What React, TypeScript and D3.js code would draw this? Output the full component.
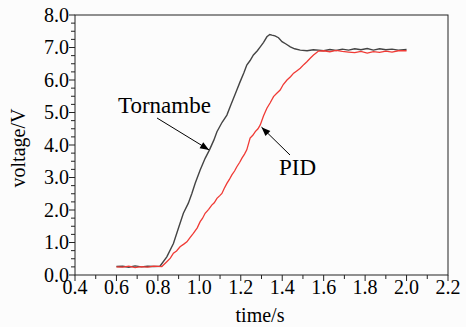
import React from "react";
import * as d3 from "d3";

// Tornambe response (time s, voltage V)
const tornambeT = [
  0.6, 0.63, 0.66, 0.69, 0.72, 0.75, 0.78, 0.81, 0.843, 0.875, 0.899, 0.923, 0.947, 0.964, 0.98, 1.004,
  1.028, 1.049, 1.07, 1.085, 1.11, 1.133, 1.15, 1.165, 1.18, 1.197, 1.215, 1.229, 1.245, 1.261, 1.28,
  1.294, 1.31, 1.326, 1.34, 1.35, 1.365, 1.382, 1.399, 1.42, 1.439, 1.46, 1.487, 1.52, 1.55, 1.575,
  1.6, 1.63, 1.66, 1.69, 1.72, 1.75, 1.78, 1.81, 1.84, 1.87, 1.9, 1.93, 1.96, 2.0,
];
const tornambeV = [
  0.26, 0.27, 0.24, 0.28, 0.25, 0.27, 0.26, 0.27, 0.56, 0.97, 1.44, 1.9, 2.21, 2.51, 2.82, 3.23,
  3.59, 3.85, 4.15, 4.41, 4.7, 4.92, 5.2, 5.44, 5.68, 5.95, 6.22, 6.46, 6.6, 6.77, 6.9,
  7.02, 7.16, 7.33, 7.4, 7.38, 7.36, 7.3, 7.18, 7.1, 7.02, 6.96, 6.92, 6.9, 6.93, 6.92,
  6.9, 6.94, 6.91, 6.95, 6.92, 6.96, 6.93, 6.97, 6.92, 6.96, 6.93, 6.95, 6.92, 6.94,
];

// PID response
const pidT = [
  0.6, 0.63, 0.66, 0.69, 0.72, 0.75, 0.78, 0.819, 0.843, 0.86, 0.875, 0.89, 0.907, 0.925, 0.94, 0.955,
  0.971, 0.99, 1.004, 1.015, 1.028, 1.045, 1.06, 1.072, 1.085, 1.1, 1.109, 1.12, 1.133, 1.145, 1.157,
  1.17, 1.181, 1.195, 1.205, 1.218, 1.229, 1.245, 1.258, 1.27, 1.283, 1.294, 1.31, 1.326, 1.342,
  1.358, 1.375, 1.39, 1.405, 1.423, 1.44, 1.455, 1.47, 1.487, 1.505, 1.519, 1.535, 1.551, 1.565,
  1.575, 1.6, 1.63, 1.66, 1.69, 1.72, 1.75, 1.78, 1.81, 1.84, 1.87, 1.9, 1.93, 1.96, 2.0,
];
const pidV = [
  0.25, 0.24, 0.27, 0.23, 0.26, 0.24, 0.27, 0.26, 0.41, 0.52, 0.67, 0.74, 0.87, 0.95, 1.02, 1.15,
  1.28, 1.45, 1.64, 1.74, 1.9, 2.02, 2.15, 2.22, 2.36, 2.45, 2.51, 2.66, 2.82, 2.94, 3.08,
  3.2, 3.33, 3.47, 3.59, 3.72, 3.85, 4.21, 4.3, 4.41, 4.5, 4.62, 4.9, 5.13, 5.3,
  5.49, 5.6, 5.69, 5.86, 6.0, 6.1, 6.21, 6.28, 6.36, 6.48, 6.56, 6.67, 6.77, 6.84,
  6.89, 6.9, 6.87, 6.91, 6.88, 6.86, 6.84, 6.88, 6.83, 6.87, 6.85, 6.89, 6.86, 6.9, 6.9,
];

const xTicks = [0.4, 0.6, 0.8, 1.0, 1.2, 1.4, 1.6, 1.8, 2.0, 2.2];
const yTicks = [0, 1, 2, 3, 4, 5, 6, 7, 8];

const W = 466;
const H = 327;
const css = `.lbl { font-family: "Liberation Serif", "Times New Roman", serif; }`;

export default function App() {
  const x = d3.scaleLinear().domain([0.4, 2.2]).range([75, 448]);
  const y = d3.scaleLinear().domain([0, 8]).range([275, 15]);

  const line = d3
    .line<[number, number]>()
    .x((d) => x(d[0]))
    .y((d) => y(d[1]));
  const tor = tornambeT.map((t, i) => [t, tornambeV[i]] as [number, number]);
  const pid = pidT.map((t, i) => [t, pidV[i]] as [number, number]);

  const yMinor = d3.range(0, 8.001, 0.25);
  const xMinor = d3.range(0.4, 2.2001, 0.1);

  // arrow head from the annotation line direction
  const arrowHead = (x1: number, y1: number, x2: number, y2: number) => {
    const a = Math.atan2(y2 - y1, x2 - x1);
    const len = 9;
    const hw = 3.5;
    const bx = x2 - len * Math.cos(a);
    const by = y2 - len * Math.sin(a);
    const px = -Math.sin(a) * hw;
    const py = Math.cos(a) * hw;
    return `M${x2},${y2}L${bx + px},${by + py}L${bx - px},${by - py}Z`;
  };
  const torArrow = [157, 118, x(1.047), y(3.85)];
  const pidArrow = [290, 155, x(1.3), y(4.55)];

  return (
    <svg width={W} height={H} style={{ position: "absolute", left: 0, top: 0 }}>
      <style>{css}</style>
      <rect width={W} height={H} fill="#fcfcfc" />

      <rect
        x={x(0.4)}
        y={y(8)}
        width={x(2.2) - x(0.4)}
        height={y(0) - y(8)}
        fill="none"
        stroke="#222"
      />

      {yMinor.map((d) => (
        <line
          key={"yt" + d}
          x1={x(0.4)}
          x2={x(0.4) - (Math.abs(d - Math.round(d)) < 1e-6 ? 6 : 4)}
          y1={y(d)}
          y2={y(d)}
          stroke="#222"
        />
      ))}
      {yTicks.map((d) => (
        <text key={"yl" + d} className="lbl" x={69} y={y(d) + 6.5} textAnchor="end" fontSize={20}>
          {d.toFixed(1)}
        </text>
      ))}

      {xMinor.map((d) => (
        <line
          key={"xt" + d}
          x1={x(d)}
          x2={x(d)}
          y1={y(0)}
          y2={y(0) + (Math.round(d * 10) % 2 === 0 ? 6 : 4)}
          stroke="#222"
        />
      ))}
      {xTicks.map((d) => (
        <text key={"xl" + d} className="lbl" x={x(d)} y={294} textAnchor="middle" fontSize={20}>
          {d.toFixed(1)}
        </text>
      ))}

      <text className="lbl" x={260} y={322} textAnchor="middle" fontSize={20}>
        time/s
      </text>
      <text className="lbl" transform="translate(25,148) rotate(-90)" textAnchor="middle" fontSize={20}>
        voltage/V
      </text>

      <path d={line(tor) ?? ""} fill="none" stroke="#444" strokeWidth={1.4} />
      <path d={line(pid) ?? ""} fill="none" stroke="#f03a35" strokeWidth={1.3} />

      <text className="lbl" x={118} y={113} fontSize={23}>
        Tornambe
      </text>
      <line x1={torArrow[0]} y1={torArrow[1]} x2={torArrow[2]} y2={torArrow[3]} stroke="#000" />
      <path d={arrowHead(torArrow[0], torArrow[1], torArrow[2], torArrow[3])} fill="#000" />
      <text className="lbl" x={279} y={175} fontSize={23}>
        PID
      </text>
      <line x1={pidArrow[0]} y1={pidArrow[1]} x2={pidArrow[2]} y2={pidArrow[3]} stroke="#000" />
      <path d={arrowHead(pidArrow[0], pidArrow[1], pidArrow[2], pidArrow[3])} fill="#000" />
    </svg>
  );
}
